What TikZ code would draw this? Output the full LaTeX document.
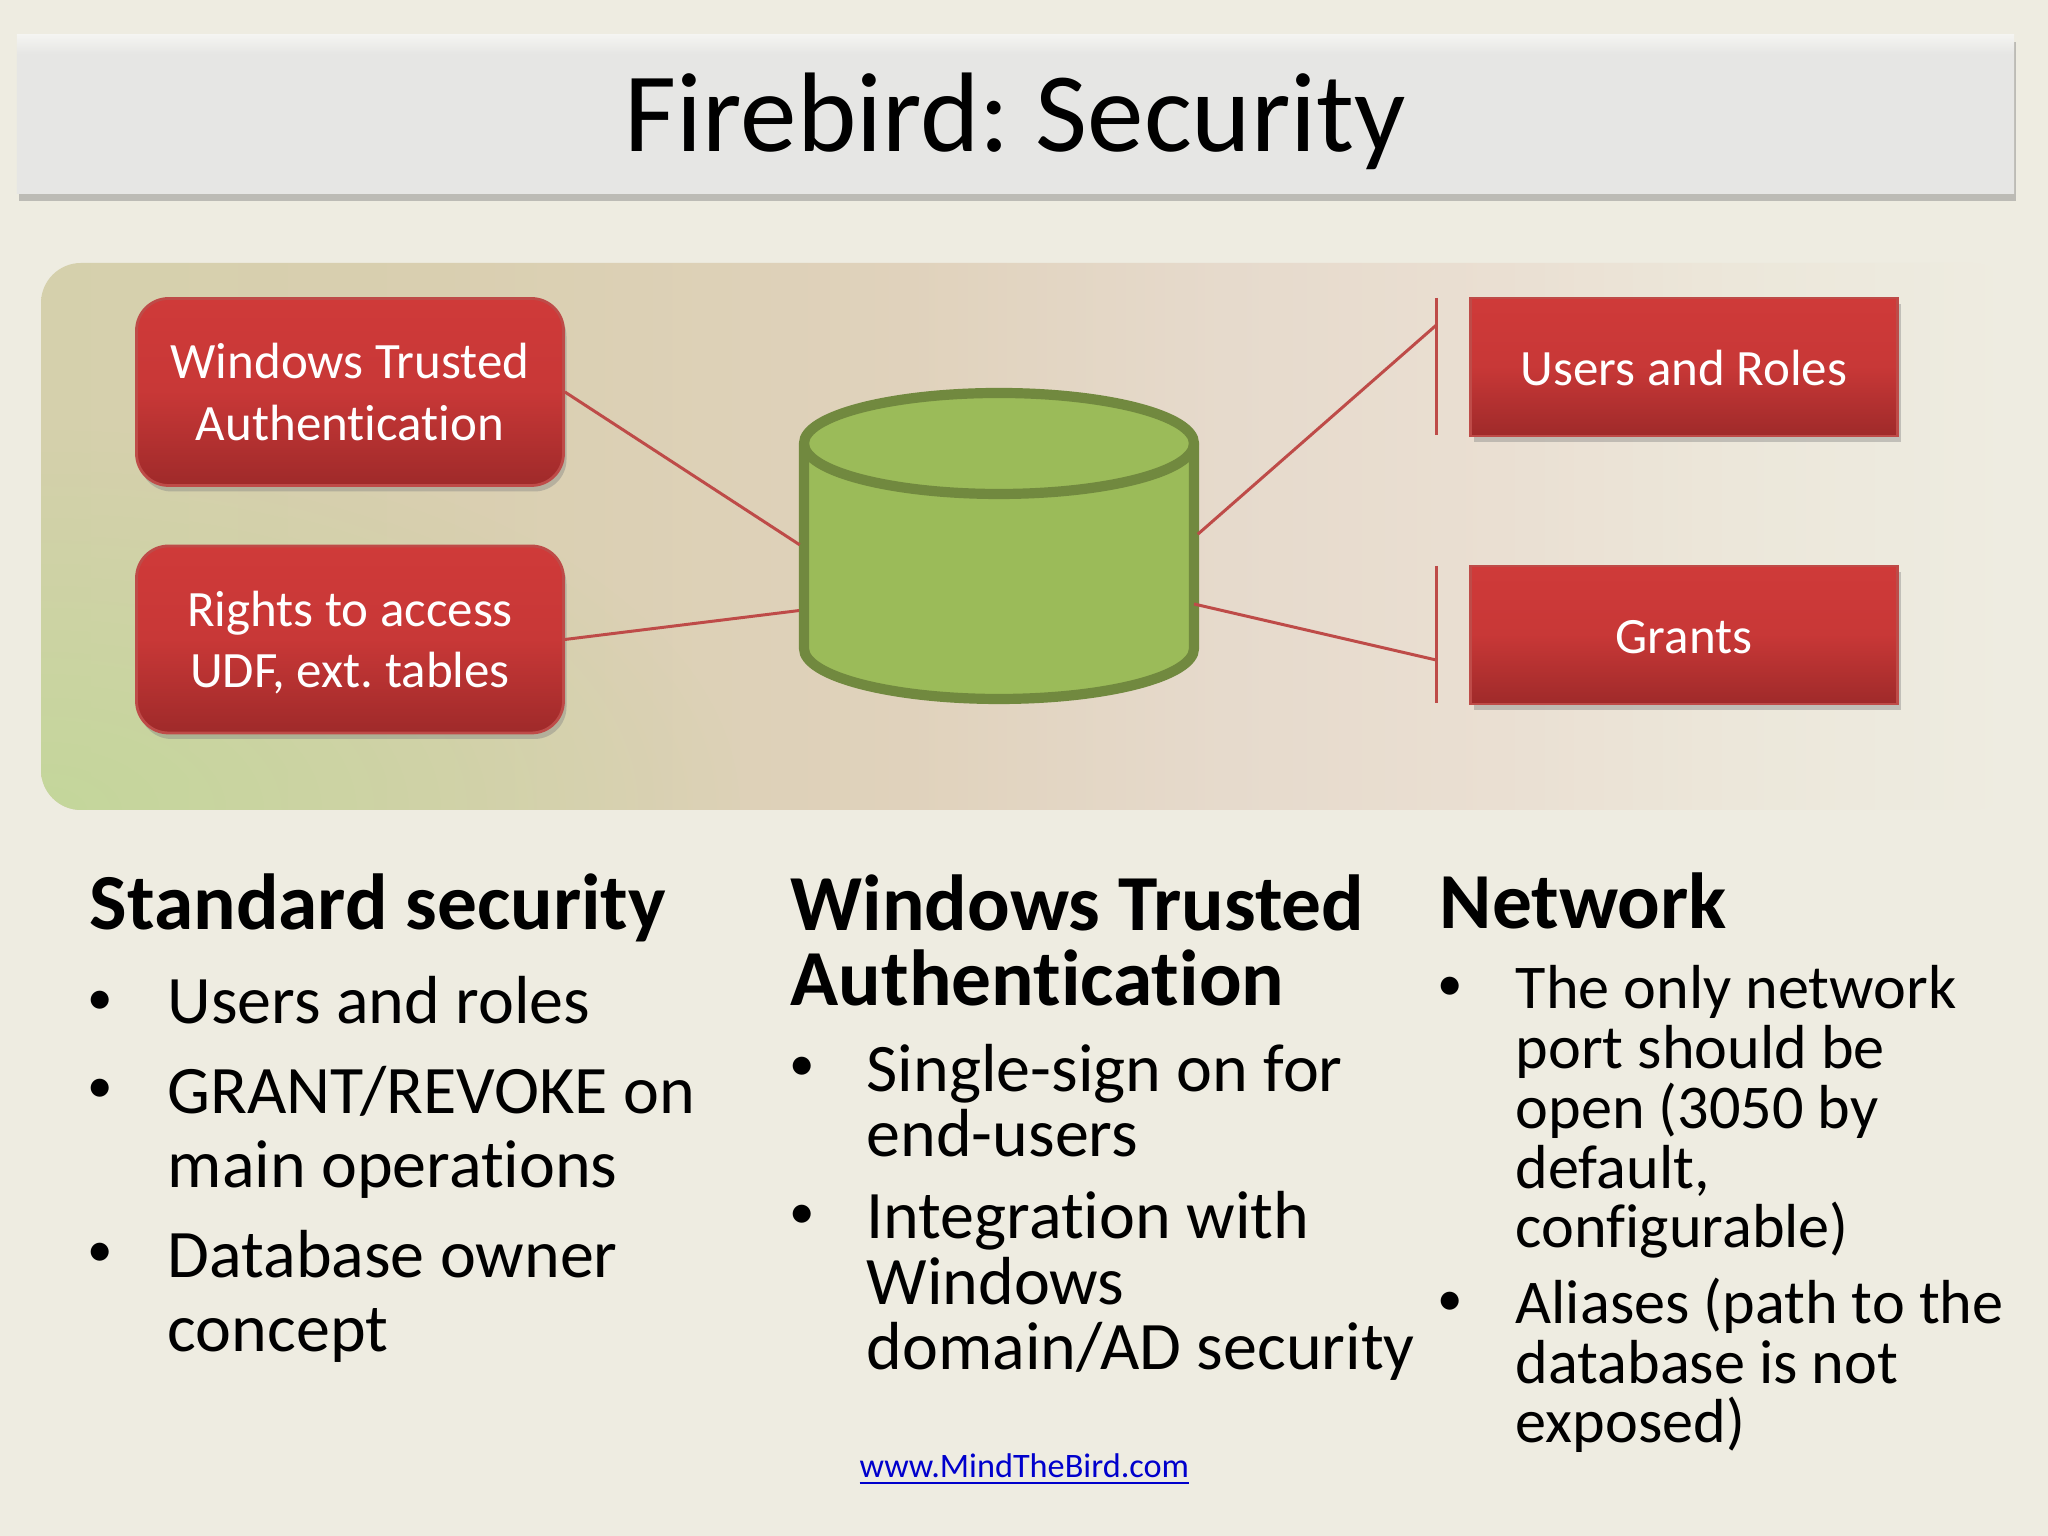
\documentclass[tikz,border=0pt]{standalone}
\usepackage{fontspec}
\setmainfont[Ligatures=NoCommon]{Carlito}
\usetikzlibrary{calc}
\usetikzlibrary{positioning,shadows,fadings}

\definecolor{slidebg}{HTML}{EEECE1}
\definecolor{linkred}{HTML}{BE4B48}
\definecolor{boxtop}{HTML}{CF3A39}
\definecolor{boxbot}{HTML}{9F2A2A}
\definecolor{dbfill}{HTML}{9BBB59}
\definecolor{dbline}{HTML}{71893F}
\definecolor{panelA}{HTML}{D5D0AC}
\definecolor{panelB}{HTML}{D9CFB0}
\definecolor{panelC}{HTML}{E0D2BC}
\definecolor{panelD}{HTML}{E6DACC}
\definecolor{panelE}{HTML}{EADFD2}
\definecolor{panelF}{HTML}{ECE7DA}
\definecolor{panelG}{HTML}{C3D79A}
\definecolor{titleA}{HTML}{E6E6E4}
\definecolor{titleB}{HTML}{F4F4F1}

\pgfdeclarehorizontalshading{panelshade}{100bp}{
    color(0bp)=(panelA);
    color(25bp)=(panelA);
    color(35bp)=(panelB);
    color(47bp)=(panelC);
    color(55bp)=(panelD);
    color(62bp)=(panelE);
    color(68bp)=(panelF);
    color(75bp)=(slidebg);
    color(100bp)=(slidebg)}
\pgfdeclareverticalshading{titleshade}{100bp}{
    color(0bp)=(titleA);
    color(69bp)=(titleA);
    color(75bp)=(titleB);
    color(100bp)=(titleB)}
\tikzfading[name=greenfade, inner color=transparent!5, outer color=transparent!100]

\begin{document}
\frenchspacing
\begin{tikzpicture}[
        RedBox/.style={
            draw=linkred,
            line width=0.8pt,
            top color=boxtop,
            bottom color=boxbot,
            middle color=boxtop!85!boxbot,
            text=white,
            inner sep=0pt,
            align=center,
            font=\fontsize{14.5}{17.5}\selectfont,
            drop shadow={shadow xshift=0.3mm,shadow yshift=-0.6mm,opacity=0.4}
        },
        Head/.style={
            anchor=base west,
            inner sep=0pt,
            align=left,
            font=\fontsize{22.6}{21.5}\selectfont\bfseries
        },
        Bullet/.style={
            anchor=base west,
            inner sep=0pt,
            font=\fontsize{14.5}{16}\selectfont
        },
        ItemA/.style={
            anchor=base west,
            inner sep=0pt,
            align=left,
            font=\fontsize{19.35}{21.1}\selectfont
        },
        ItemB/.style={
            anchor=base west,
            inner sep=0pt,
            align=left,
            font=\fontsize{19.35}{18.75}\selectfont
        },
        ItemC/.style={
            anchor=base west,
            inner sep=0pt,
            align=left,
            font=\fontsize{17.7}{17}\selectfont
        },
        LinkLine/.style={
            draw=linkred,
            line width=0.85pt
        },
        DbLine/.style={
            draw=dbline,
            line width=2.9pt
        }
    ]

    \fill[slidebg] (0,0) rectangle (20.48,15.36);
    \useasboundingbox (0,0) rectangle (20.48,15.36);

    %title bar
    \node[
        minimum width=19.97cm,minimum height=1.59cm,inner sep=0pt,
        shading=titleshade,
        drop shadow={shadow xshift=0.2mm,shadow yshift=-0.7mm,opacity=0.45},
        text height=21.3pt,text depth=0pt,
        font=\fontsize{32.2}{34}\selectfont
    ] (titlebar) at (10.155,14.215) {Firebird: Security};

    %panel
    \path[shading=panelshade,rounded corners=0.4cm] (0.41,12.73) rectangle (20.12,7.26);
    \begin{scope}
        \clip[rounded corners=0.4cm] (0.41,12.73) rectangle (20.12,7.26);
        \fill[panelG,path fading=greenfade] (0.41,7.26) ellipse [x radius=7,y radius=3.8];
    \end{scope}

    %left boxes
    \node[RedBox,rounded corners=0.32cm,minimum width=4.27cm,minimum height=1.87cm] (winauth) at (3.5,11.44) {Windows Trusted\\Authentication};
    \node[RedBox,rounded corners=0.32cm,minimum width=4.27cm,minimum height=1.87cm,text depth=0pt] (rights) at (3.5,8.965) {Rights to access\\UDF, ext. tables};

    %right boxes
    \node[RedBox,minimum width=4.27cm,minimum height=1.38cm,text height=10.8pt,text depth=0pt] (users) at (16.84,11.69) {Users and Roles};
    \node[RedBox,minimum width=4.27cm,minimum height=1.38cm,text height=10.8pt,text depth=0pt] (grants) at (16.84,9.01) {Grants};

    %database
    \draw[DbLine,fill=dbfill] (8.04,10.925)coordinate (E)--++(-90:2.05)coordinate (F)
        arc[start angle=180,end angle=360,x radius=1.95,y radius=0.505]coordinate (G)
        --++(90:2.05)coordinate (H)
        arc[start angle=0,end angle=180,x radius=1.95,y radius=0.505]--cycle;
    \draw[DbLine] (E) arc[start angle=180,end angle=360,x radius=1.95,y radius=0.505];

    %brackets
    \draw[LinkLine] (14.36,12.38)coordinate (A)--++(-90:1.37)coordinate (B);
    \draw[LinkLine] (14.36,9.70)coordinate (C)--++(-90:1.37)coordinate (D);

    %connections
    \draw[LinkLine,shorten >=1.45pt] (winauth.east)--($(E)!0.508!(F)$);
    \draw[LinkLine,shorten >=1.45pt] (rights.east)--($(E)!0.812!(F)$);
    \draw[LinkLine,shorten <=1.45pt] ($(H)!0.459!(G)$)--($(A)!0.2!(B)$);
    \draw[LinkLine] ($(H)!0.783!(G)$)--($(C)!0.686!(D)$);

    %standard security
    \node[Head] (stdhead) at (0.89,6.06) {Standard security};
    \node[Bullet] (stdbulA) at (0.87,5.21) {•};
    \node[ItemA] (stdA) at (1.67,5.12) {Users and roles};
    \node[Bullet] (stdbulB) at (0.87,4.33) {•};
    \node[ItemA] (stdB) at (1.67,3.48) {GRANT/REVOKE on\\main operations};
    \node[Bullet] (stdbulC) at (0.87,2.69) {•};
    \node[ItemA] (stdC) at (1.67,1.84) {Database owner\\concept};

    %windows trusted authentication
    \node[Head] (winhead) at (7.90,5.30) {Windows Trusted\\Authentication};
    \node[Bullet] (winbulA) at (7.89,4.55) {•};
    \node[ItemB] (winA) at (8.66,3.79) {Single-sign on for\\end-users};
    \node[Bullet] (winbulB) at (7.89,3.07) {•};
    \node[ItemB] (winB) at (8.66,1.66) {Integration with\\Windows\\domain/AD security};

    %network
    \node[Head] (nethead) at (14.39,6.07) {Network};
    \node[Bullet] (netbulA) at (14.37,5.35) {•};
    \node[ItemC] (netA) at (15.15,2.88) {The only network\\port should be\\open (3050 by\\default,\\configurable)};
    \node[Bullet] (netbulB) at (14.37,2.20) {•};
    \node[ItemC] (netB) at (15.15,0.93) {Aliases (path to the\\database is not\\exposed)};

    %footer link
    \node[anchor=base west,inner sep=0pt,text=blue!80!black,font=\fontsize{9.75}{12}\selectfont] (footlink) at (8.59,0.58) {\underline{www.MindTheBird.com}};

\end{tikzpicture}
\end{document}
